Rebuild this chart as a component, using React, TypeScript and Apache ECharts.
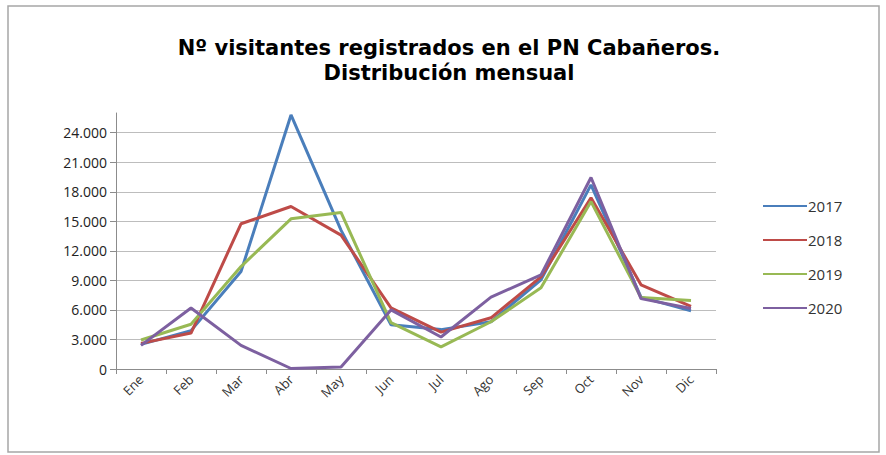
import React, { useEffect, useRef } from "react";
import * as echarts from "echarts";

const months = ["Ene", "Feb", "Mar", "Abr", "May", "Jun", "Jul", "Ago", "Sep", "Oct", "Nov", "Dic"];
const v2017 = [2500, 3900, 9900, 25800, 14100, 4500, 4000, 4800, 9050, 18700, 7300, 5900];
const v2018 = [2600, 3650, 14750, 16500, 13600, 6200, 3750, 5200, 9350, 17400, 8550, 6350];
const v2019 = [2950, 4550, 10400, 15250, 15900, 4700, 2250, 4800, 8250, 17000, 7250, 6950];
const v2020 = [2400, 6200, 2400, 50, 200, 6000, 3250, 7300, 9550, 19450, 7150, 6150];
const seriesNames = ["2017", "2018", "2019", "2020"];
const colors = ["#4A7EBB", "#BE4B48", "#98B954", "#7D60A0"];
const titleLines = ["Nº visitantes registrados en el PN Cabañeros.", "Distribución mensual"];

export default function App() {
  const ref = useRef<HTMLDivElement>(null);
  useEffect(() => {
    if (!ref.current) return;
    const chart = echarts.init(ref.current, null, { renderer: "svg" });
    const data = [v2017, v2018, v2019, v2020];
    const gridColors = Array(9).fill("#BDBDBD").concat(["rgba(0,0,0,0)"]);
    chart.setOption({
      animation: false,
      backgroundColor: "#ffffff",
      title: {
        text: titleLines.join("\n"),
        left: 444,
        textAlign: "center",
        top: 30,
        textStyle: {
          fontFamily: "DejaVu Sans",
          fontWeight: "bold",
          fontSize: 21,
          color: "#000",
          lineHeight: 25,
        },
      },
      graphic: [
        {
          type: "rect",
          shape: { x: 8, y: 6, width: 871, height: 446 },
          style: { fill: "none", stroke: "#A6A6A6", lineWidth: 1.5 },
          silent: true,
        },
      ],
      legend: {
        orient: "vertical",
        left: 758,
        top: 192,
        itemGap: 16,
        itemWidth: 44,
        itemHeight: 18,
        icon: "path://M0,8 L44,8 L44,10 L0,10 Z",
        data: seriesNames,
        textStyle: { fontFamily: "Open Sans", fontSize: 15, color: "#333", padding: [0, 0, 0, -4], lineHeight: 18 },
      },
      grid: { left: 116, right: 170, top: 113, bottom: 86 },
      xAxis: {
        type: "category",
        data: months,
        boundaryGap: true,
        axisLine: { lineStyle: { color: "#8C8C8C", width: 1 } },
        axisTick: { show: true, length: 5, lineStyle: { color: "#8C8C8C" } },
        axisLabel: {
          rotate: 45,
          fontFamily: "Open Sans",
          fontSize: 13,
          color: "#333",
          margin: 8,
        },
      },
      yAxis: {
        type: "value",
        min: 0,
        max: 26000,
        interval: 3000,
        axisLine: { show: true, lineStyle: { color: "#8C8C8C", width: 1 } },
        axisTick: { show: true, length: 6, lineStyle: { color: "#8C8C8C" } },
        splitLine: { show: true, lineStyle: { color: gridColors, width: 1 } },
        axisLabel: {
          showMaxLabel: false,
          fontFamily: "Open Sans",
          fontSize: 14,
          color: "#222",
          margin: 9,
          formatter: (v: number) => (v === 0 ? "0" : (v / 1000).toFixed(3)),
        },
      },
      series: seriesNames.map((name, i) => ({
        name,
        type: "line",
        data: data[i],
        symbol: "none",
        clip: false,
        lineStyle: { width: 3, color: colors[i] },
        itemStyle: { color: colors[i] },
      })),
    });
    return () => chart.dispose();
  }, []);
  return (
    <div
      ref={ref}
      style={{ position: "absolute", left: 0, top: 0, width: 886, height: 455 }}
    />
  );
}
